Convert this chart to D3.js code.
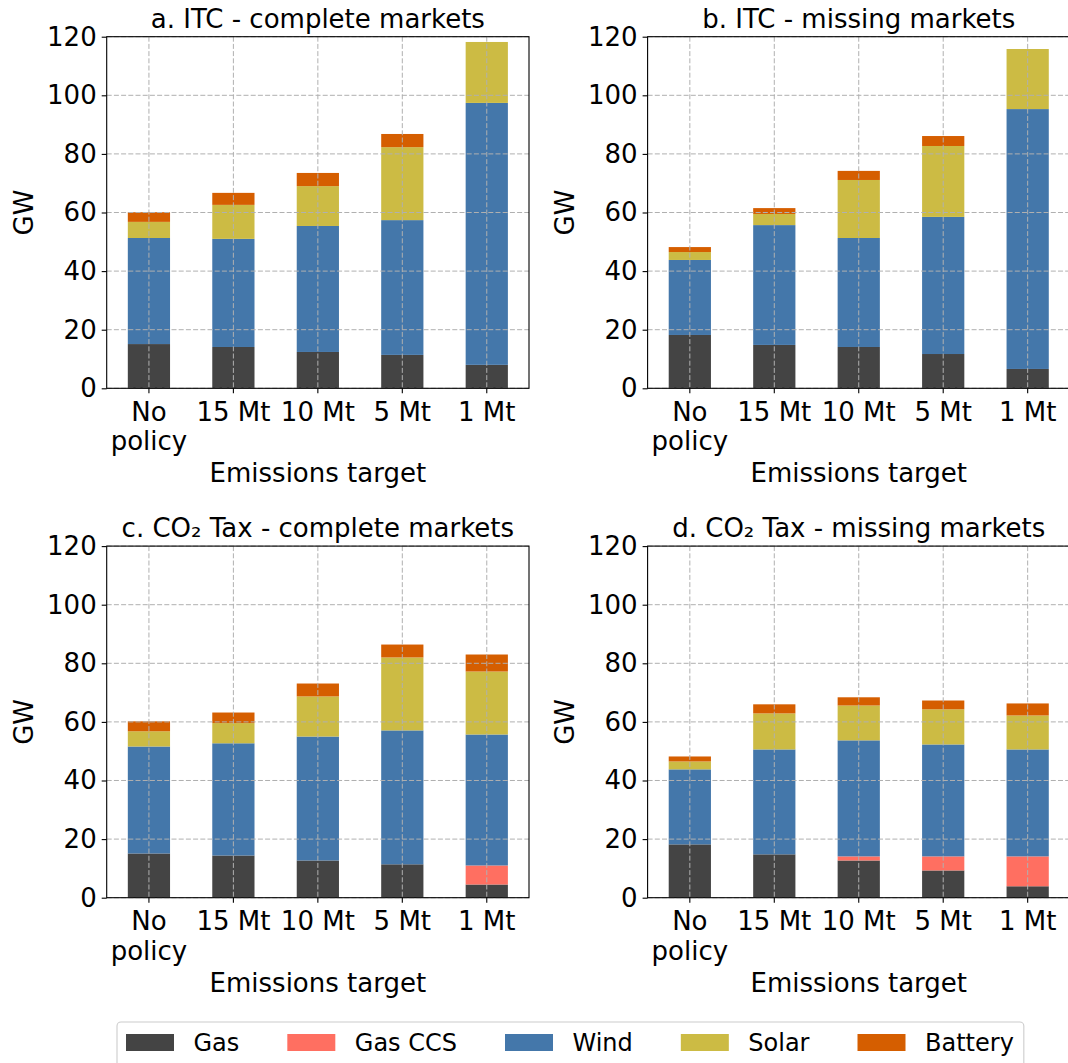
<!DOCTYPE html>
<html>
<head>
<meta charset="utf-8">
<script src="https://cdn.jsdelivr.net/npm/d3@7"></script>
<style>
  html, body { margin: 0; padding: 0; background: #ffffff; }
  svg { display: block; font-family: "DejaVu Sans", sans-serif; }
</style>
</head>
<body>
<svg id="chart" width="1068" height="1063"></svg>
<script>
// Emissions-target scenarios (x axis)
const categories = ["No\npolicy", "15 Mt", "10 Mt", "5 Mt", "1 Mt"];
const technologies = ["Gas", "Gas CCS", "Wind", "Solar", "Battery"];
const techColors = ["#444444", "#ff6f61", "#4477aa", "#ccbb44", "#d55e00"];
const yTicks = [0, 20, 40, 60, 80, 100, 120];

// a. ITC - complete markets (GW)
const gasA     = [15.1, 14.1, 12.4, 11.4, 8.0];
const gasCcsA  = [0, 0, 0, 0, 0];
const windA    = [36.2, 36.9, 43.0, 46.0, 89.4];
const solarA   = [5.5, 11.6, 13.6, 24.9, 20.8];
const batteryA = [3.3, 4.1, 4.5, 4.5, 0];

// b. ITC - missing markets (GW)
const gasB     = [18.2, 14.8, 14.1, 11.7, 6.6];
const gasCcsB  = [0, 0, 0, 0, 0];
const windB    = [25.6, 40.9, 37.2, 46.8, 88.7];
const solarB   = [2.7, 3.8, 19.8, 24.2, 20.5];
const batteryB = [1.7, 2.0, 3.1, 3.4, 0];

// c. CO2 tax - complete markets (GW)
const gasC     = [15.1, 14.4, 12.7, 11.4, 4.5];
const gasCcsC  = [0, 0, 0, 0, 6.5];
const windC    = [36.5, 38.3, 42.3, 45.7, 44.7];
const solarC   = [5.2, 6.9, 13.7, 24.9, 21.5];
const batteryC = [3.4, 3.6, 4.4, 4.4, 5.8];

// d. CO2 tax - missing markets (GW)
const gasD     = [18.2, 14.8, 12.7, 9.3, 3.9];
const gasCcsD  = [0, 0, 1.4, 4.8, 10.2];
const windD    = [25.6, 35.8, 39.6, 38.2, 36.5];
const solarD   = [2.7, 12.3, 11.9, 12.0, 11.6];
const batteryD = [1.7, 3.1, 2.8, 3.0, 4.1];

const panels = [
  { title: "a. ITC - complete markets",     series: [gasA, gasCcsA, windA, solarA, batteryA], x: 106.7, y: 36.7 },
  { title: "b. ITC - missing markets",      series: [gasB, gasCcsB, windB, solarB, batteryB], x: 647.6, y: 36.7 },
  { title: "c. CO\u2082 Tax - complete markets", series: [gasC, gasCcsC, windC, solarC, batteryC], x: 106.7, y: 546.1 },
  { title: "d. CO\u2082 Tax - missing markets",  series: [gasD, gasCcsD, windD, solarD, batteryD], x: 647.6, y: 546.1 }
];

const W = 422.3, H = 351.6;
const FONT = 26;        // axes text
const LEGEND_FONT = 24; // legend text
const svg = d3.select("#chart");

const x = d3.scaleBand().domain(categories).range([0, W]).paddingInner(0.5).paddingOuter(0.25);
const y = d3.scaleLinear().domain([0, 120]).range([H, 0]);

panels.forEach(p => {
  const g = svg.append("g").attr("transform", `translate(${p.x},${p.y})`);

  // stacked rows: one object per category
  const rows = categories.map((c, i) => {
    const r = { cat: c };
    technologies.forEach((t, k) => { r[t] = p.series[k][i]; });
    return r;
  });
  const stacked = d3.stack().keys(technologies)(rows);

  g.selectAll("g.layer").data(stacked).join("g")
    .attr("class", "layer")
    .attr("fill", (d, k) => techColors[k])
    .selectAll("rect").data(d => d).join("rect")
    .attr("x", d => x(d.data.cat))
    .attr("width", x.bandwidth())
    .attr("y", d => y(d[1]))
    .attr("height", d => Math.max(0, y(d[0]) - y(d[1])));

  // dashed grid drawn above the bars
  const grid = g.append("g").attr("stroke", "#b0b0b0").attr("stroke-width", 1)
    .attr("stroke-dasharray", "5,2.2");
  grid.selectAll("line.h").data(yTicks).join("line").attr("class", "h")
    .attr("x1", 0).attr("x2", W).attr("y1", d => y(d)).attr("y2", d => y(d));
  grid.selectAll("line.v").data(categories).join("line").attr("class", "v")
    .attr("x1", d => x(d) + x.bandwidth() / 2).attr("x2", d => x(d) + x.bandwidth() / 2)
    .attr("y1", 0).attr("y2", H);

  // y axis
  const ya = g.append("g").call(d3.axisLeft(y).tickValues(yTicks).tickSize(5).tickPadding(5).tickSizeOuter(0));
  ya.select(".domain").remove();
  ya.selectAll("line").attr("stroke", "#000").attr("stroke-width", 1.1);
  ya.selectAll("text").attr("font-size", FONT).attr("font-family", "DejaVu Sans").attr("fill", "#000");

  // x axis ticks and multi-line labels
  const xa = g.append("g").attr("transform", `translate(0,${H})`)
    .call(d3.axisBottom(x).tickSize(5).tickSizeOuter(0).tickFormat(() => ""));
  xa.select(".domain").remove();
  xa.selectAll("line").attr("stroke", "#000").attr("stroke-width", 1.1);
  xa.selectAll(".tick").each(function (d) {
    const t = d3.select(this).select("text")
      .attr("font-size", FONT).attr("font-family", "DejaVu Sans").attr("fill", "#000")
      .attr("text-anchor", "middle").attr("y", 0).attr("dy", null);
    t.selectAll("tspan").data(d.split("\n")).join("tspan")
      .attr("x", 0).attr("y", (s, i) => 32.5 + i * 29.5).text(s => s);
  });

  // frame
  g.append("rect").attr("x", 0).attr("y", 0).attr("width", W).attr("height", H)
    .attr("fill", "none").attr("stroke", "#000").attr("stroke-width", 1.1);

  // labels
  g.append("text").attr("x", W / 2).attr("y", -9.2).attr("text-anchor", "middle")
    .attr("font-size", FONT).attr("fill", "#000").text(p.title);
  g.append("text").attr("x", W / 2).attr("y", H + 94).attr("text-anchor", "middle")
    .attr("font-size", FONT).attr("fill", "#000").text("Emissions target");
  g.append("text").attr("transform", `translate(-74,${H / 2}) rotate(-90)`)
    .attr("text-anchor", "middle").attr("font-size", FONT).attr("fill", "#000").text("GW");
});

// legend
const legend = svg.append("g");
const legendBox = legend.append("rect").attr("x", 117).attr("y", 1022).attr("rx", 4).attr("ry", 4)
  .attr("height", 60).attr("fill", "#fff").attr("stroke", "#cccccc").attr("stroke-width", 1.1);
let lx = 126;
technologies.forEach((t, k) => {
  legend.append("rect").attr("x", lx).attr("y", 1034).attr("width", 48).attr("height", 17)
    .attr("fill", techColors[k]);
  const txt = legend.append("text").attr("x", lx + 48 + 19.5).attr("y", 1051)
    .attr("font-size", LEGEND_FONT).attr("fill", "#000").text(t);
  const w = txt.node().getComputedTextLength();
  lx = lx + 48 + 19.5 + w + 48;
});
legendBox.attr("width", lx - 48 + 10 - 117);
</script>
</body>
</html>
